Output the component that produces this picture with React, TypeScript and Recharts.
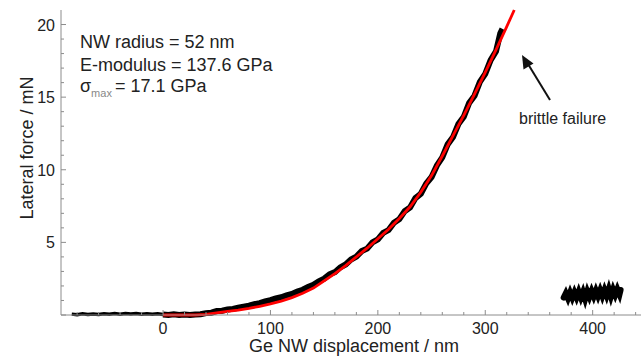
import { ComposedChart, Line, XAxis, YAxis } from "recharts";

// measured force-displacement trace (nm, mN)
const approachX = [-85, -80, -75, -70, -65, -60, -55, -50, -45, -40, -35, -30, -25, -20, -15, -10, -5, 0];
const approachF = [0.06, 0.02, 0.08, 0.03, 0.07, 0.04, 0.09, 0.05, 0.1, 0.06, 0.11, 0.07, 0.1, 0.05, 0.09, 0.05, 0.08, 0.03];

const loadX = [
  0, 5, 10, 15, 20, 25, 30, 35, 40, 45, 50, 55, 60, 65, 70, 75, 80, 85, 90, 95, 100, 105, 110, 115, 120,
  125, 130, 135, 140, 145, 150, 155, 160, 165, 170, 175, 180, 185, 190, 195, 200, 205, 210, 215, 220,
  225, 230, 235, 240, 245, 250, 255, 260, 265, 270, 275, 280, 285, 290, 295, 300, 305, 310, 314, 316,
];
const loadF = [
  0.04, 0.0, 0.05, 0.0, 0.03, 0.0, 0.04, 0.05, 0.13, 0.16, 0.27, 0.29, 0.38, 0.42, 0.5, 0.58, 0.64, 0.74,
  0.82, 0.94, 1.02, 1.14, 1.22, 1.36, 1.45, 1.62, 1.74, 1.93, 2.08, 2.32, 2.5, 2.8, 2.95, 3.28, 3.48, 3.82,
  4.02, 4.4, 4.57, 5.0, 5.2, 5.65, 5.85, 6.35, 6.6, 7.15, 7.4, 8.05, 8.35, 9.05, 9.5, 10.3, 10.85, 11.75,
  12.25, 13.15, 13.65, 14.6, 15.1, 16.05, 16.6, 17.55, 18.15, 19.4, 19.7,
];

// after failure
const brokenX = [373, 375, 377, 379, 381, 383, 385, 387, 389, 391, 393, 395, 397, 399, 401, 403, 405, 407, 409, 411, 413, 415, 417, 419, 421, 423, 425, 426];
const brokenF = [1.2, 1.5, 1.15, 1.55, 1.18, 1.56, 1.2, 1.6, 1.2, 1.58, 1.1, 1.62, 1.25, 1.65, 1.28, 1.68, 1.3, 1.7, 1.3, 1.72, 1.33, 1.78, 1.28, 1.75, 1.38, 1.78, 1.42, 1.72];

// fitted curve
const fitX = [0, 10, 20, 30, 40, 50, 60, 70, 80, 90, 100, 110, 120, 130, 140, 150, 160, 170, 180, 190, 200, 210, 220, 230, 240, 250, 260, 270, 280, 290, 300, 310, 320, 327];
const fitF = [0, 0, 0, 0, 0.04, 0.15, 0.25, 0.33, 0.45, 0.6, 0.76, 0.96, 1.2, 1.5, 1.85, 2.35, 2.85, 3.4, 4.0, 4.6, 5.25, 5.9, 6.65, 7.45, 8.45, 9.6, 10.95, 12.35, 13.75, 15.2, 16.7, 18.25, 19.85, 21];

const xTicks = [-80, -60, -40, -20, 0, 20, 40, 60, 80, 100, 120, 140, 160, 180, 200, 220, 240, 260, 280, 300, 320, 340, 360, 380, 400, 420, 440];
const yTicks = [0, 1, 2, 3, 4, 5, 6, 7, 8, 9, 10, 11, 12, 13, 14, 15, 16, 17, 18, 19, 20];

const pts = (xs: number[], fs: number[]) => xs.map((x, i) => ({ x, f: fs[i] }));

const grey = "#8c8c8c";
const ink = "#222";
const font = "'Liberation Sans', Arial, sans-serif";

const XTick = (props: any) => {
  const { x, y, payload } = props;
  const v = payload.value as number;
  const major = v % 100 === 0;
  return (
    <g>
      <line x1={x} x2={x} y1={y} y2={y - (major ? 5 : 3)} stroke={grey} />
      {major && (
        <text x={x} y={y + 19} textAnchor="middle" fontSize={16} fill={ink} fontFamily={font}>
          {v}
        </text>
      )}
    </g>
  );
};

const YTick = (props: any) => {
  const { x, y, payload } = props;
  const v = payload.value as number;
  const major = v % 5 === 0;
  return (
    <g>
      <line x1={x} x2={x + (major ? 5 : 3)} y1={y} y2={y} stroke={grey} />
      {major && v !== 0 && (
        <text x={x - 6} y={y + 6} textAnchor="end" fontSize={16} fill={ink} fontFamily={font}>
          {v}
        </text>
      )}
    </g>
  );
};

export default function App() {
  return (
    <div style={{ position: "absolute", left: 0, top: 0, width: 641, height: 356, background: "#fff" }}>
      <ComposedChart width={641} height={356} margin={{ top: 10, right: 0, bottom: 0, left: 0 }}>
        <XAxis
          type="number"
          dataKey="x"
          domain={[-95, 445]}
          ticks={xTicks}
          interval={0}
          tickSize={0}
          tickMargin={0}
          tickLine={false}
          axisLine={{ stroke: grey }}
          tick={<XTick />}
          height={41}
        />
        <YAxis
          type="number"
          dataKey="f"
          domain={[0, 21]}
          ticks={yTicks}
          interval={0}
          tickSize={0}
          tickMargin={0}
          tickLine={false}
          axisLine={{ stroke: grey }}
          tick={<YTick />}
          width={61}
        />
        <Line data={pts(approachX, approachF)} dataKey="f" stroke="#000" strokeWidth={3.5} dot={false} isAnimationActive={false} />
        <Line data={pts(loadX, loadF)} dataKey="f" stroke="#000" strokeWidth={6} dot={false} isAnimationActive={false} />
        <Line data={pts(brokenX, brokenF)} dataKey="f" stroke="#000" strokeWidth={6} strokeLinecap="round" dot={false} isAnimationActive={false} />
        <Line data={pts(fitX, fitF)} dataKey="f" stroke="#ff0000" strokeWidth={2.8} dot={false} isAnimationActive={false} />
      </ComposedChart>
      <svg
        width={641}
        height={356}
        style={{ position: "absolute", left: 0, top: 0, pointerEvents: "none" }}
        fontFamily={font}
      >
        <text x={80} y={48} fontSize={18} fill={ink}>NW radius = 52 nm</text>
        <text x={80} y={71} fontSize={18} fill={ink}>E-modulus = 137.6 GPa</text>
        <text x={80} y={92} fontSize={18} fill={ink}>
          σ
          <tspan fontSize={11} fill="#888" dy={5}>max</tspan>
          <tspan dy={-5} dx={3}>= 17.1 GPa</tspan>
        </text>
        <text x={519} y={124} fontSize={16} fill={ink}>brittle failure</text>
        <line x1={550} y1={100} x2={528} y2={64} stroke="#111" strokeWidth={2} />
        <polygon points="522,55 523.5,69.5 533.5,63.5" fill="#111" />
        <text
          x={27}
          y={148}
          fontSize={18}
          fill={ink}
          textAnchor="middle"
          dominantBaseline="central"
          transform="rotate(-90 27 148)"
        >
          Lateral force / mN
        </text>
        <text x={354} y={352} fontSize={18} fill={ink} textAnchor="middle">
          Ge NW displacement / nm
        </text>
      </svg>
    </div>
  );
}
